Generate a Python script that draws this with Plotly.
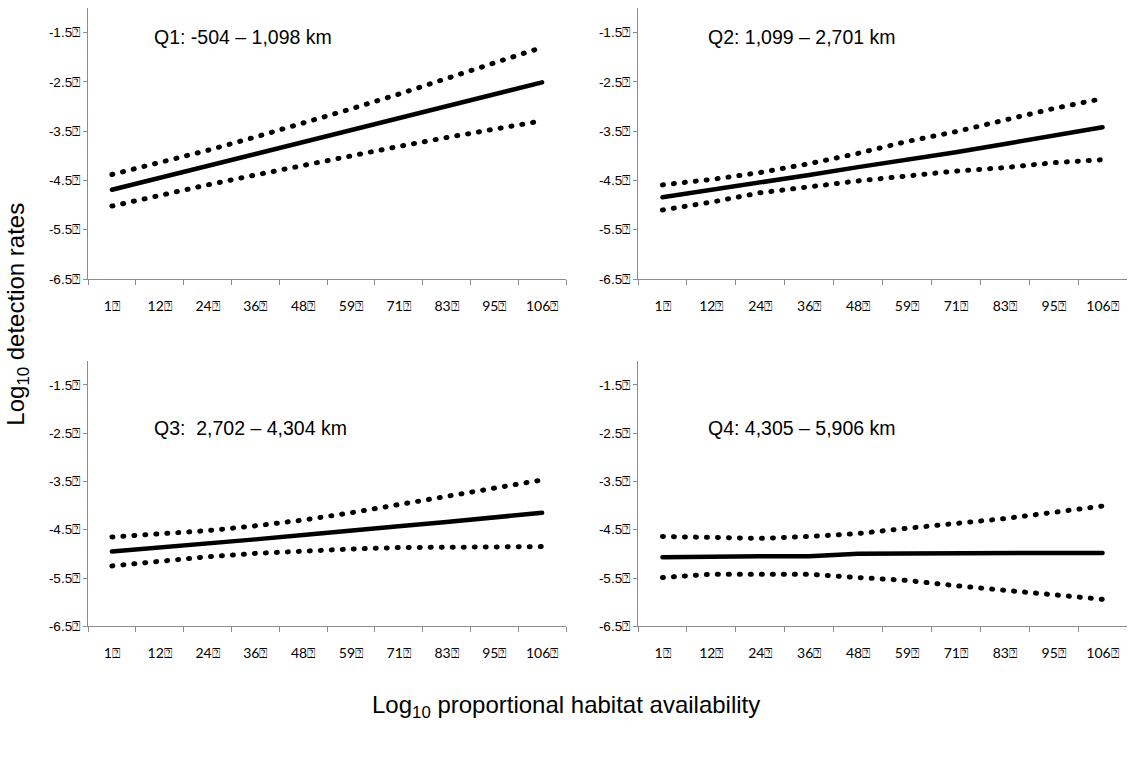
import plotly.graph_objects as go

# Habitat-availability categories (x) and the box glyph that trails every tick label
BOX = "\u2370"
categories = ["1", "12", "24", "36", "48", "59", "71", "83", "95", "106"]
y_ticks = [-6.5, -5.5, -4.5, -3.5, -2.5, -1.5]

# Fitted log10 detection rate with lower / upper confidence limits, per distance quartile
q1_fit = [-4.69, -4.45, -4.21, -3.96, -3.72, -3.48, -3.24, -3.00, -2.75, -2.51]
q1_upper = [-4.38, -4.14, -3.89, -3.62, -3.34, -3.05, -2.75, -2.44, -2.12, -1.80]
q1_lower = [-5.02, -4.80, -4.59, -4.39, -4.19, -4.00, -3.81, -3.63, -3.46, -3.29]

q2_fit = [-4.84, -4.69, -4.56, -4.39, -4.23, -4.09, -3.93, -3.76, -3.60, -3.42]
q2_upper = [-4.59, -4.48, -4.34, -4.16, -3.95, -3.71, -3.51, -3.27, -3.04, -2.84]
q2_lower = [-5.10, -4.94, -4.75, -4.62, -4.51, -4.41, -4.31, -4.24, -4.14, -4.08]

q3_fit = [-4.95, -4.87, -4.80, -4.70, -4.61, -4.53, -4.43, -4.34, -4.24, -4.15]
q3_upper = [-4.65, -4.58, -4.52, -4.42, -4.30, -4.15, -3.98, -3.80, -3.63, -3.47]
q3_lower = [-5.25, -5.15, -5.06, -4.99, -4.94, -4.90, -4.87, -4.86, -4.86, -4.85]

q4_fit = [-5.07, -5.05, -5.05, -5.05, -5.00, -4.99, -4.99, -5.00, -4.98, -4.98]
q4_upper = [-4.64, -4.67, -4.68, -4.64, -4.58, -4.47, -4.37, -4.27, -4.14, -4.01]
q4_lower = [-5.49, -5.42, -5.42, -5.42, -5.49, -5.55, -5.66, -5.75, -5.85, -5.94]

panel_titles = [
    "Q1: -504 \u2013 1,098 km",
    "Q2: 1,099 \u2013 2,701 km",
    "Q3: \u00a02,702 \u2013 4,304 km",
    "Q4: 4,305 \u2013 5,906 km",
]

panels = [
    (q1_fit, q1_upper, q1_lower),
    (q2_fit, q2_upper, q2_lower),
    (q3_fit, q3_upper, q3_lower),
    (q4_fit, q4_upper, q4_lower),
]

W, H = 1130, 757
x_domains = [[88 / W, 566 / W], [638 / W, 1127 / W]]
y_domains = [[1 - 282 / H, 1 - 8 / H], [1 - 633 / H, 1 - 364.5 / H]]

x_labels = [c + BOX for c in categories]
AXIS_GREY = "#8c8c8c"

fig = go.Figure()
layout = {}
annotations = []

for k, (fit, upper, lower) in enumerate(panels):
    row, col = divmod(k, 2)
    sfx = "" if k == 0 else str(k + 1)
    xa, ya = "x" + sfx, "y" + sfx
    for series, dash, width in ((upper, "1px,10px", 5), (lower, "1px,10px", 5), (fit, "solid", 4.5)):
        fig.add_trace(go.Scatter(
            x=x_labels, y=series, xaxis=xa, yaxis=ya, mode="lines",
            line=dict(color="black", width=width, dash=dash),
            showlegend=False, hoverinfo="skip",
        ))
    layout["xaxis" + sfx] = dict(
        domain=x_domains[col], anchor=ya, type="category",
        categoryorder="array", categoryarray=x_labels,
        range=[-0.5, 9.5], tickson="boundaries",
        showline=True, linecolor=AXIS_GREY, linewidth=1.3,
        ticks="outside", ticklen=5, tickcolor=AXIS_GREY, tickwidth=1.3,
        ticklabelstandoff=14,
        showgrid=False, zeroline=False,
        tickfont=dict(family="Lato, 'Open Sans', sans-serif", size=14, color="black"),
    )
    layout["yaxis" + sfx] = dict(
        domain=y_domains[row], anchor=xa, range=[-6.5, -1.0],
        tickmode="array", tickvals=y_ticks, ticktext=[f"{v:.1f}{BOX}" for v in y_ticks],
        showline=True, linecolor=AXIS_GREY, linewidth=1.3,
        ticks="outside", ticklen=4, tickcolor=AXIS_GREY, tickwidth=1.3,
        showgrid=False, zeroline=False,
        tickfont=dict(family="Liberation Sans, Arial, sans-serif", size=13.5, color="black"),
    )
    tx = [152, 706][col] / W
    ty = 1 - [37, 433][row] / H
    annotations.append(dict(
        text=panel_titles[k], x=tx, y=ty, xref="paper", yref="paper",
        xanchor="left", yanchor="middle", showarrow=False,
        font=dict(family="Liberation Sans, Arial, sans-serif", size=19.5, color="black"),
    ))

annotations.append(dict(
    text="Log<sub>10</sub> detection rates", x=18 / W, y=1 - 318 / H,
    xref="paper", yref="paper", xanchor="center", yanchor="middle",
    textangle=-90, showarrow=False,
    font=dict(family="Liberation Sans, Arial, sans-serif", size=24, color="black"),
))
annotations.append(dict(
    text="Log<sub>10</sub> proportional habitat availability", x=566 / W, y=1 - 714 / H,
    xref="paper", yref="paper", xanchor="center", yanchor="middle", showarrow=False,
    font=dict(family="Liberation Sans, Arial, sans-serif", size=24, color="black"),
))

fig.update_layout(
    width=W, height=H, margin=dict(l=0, r=0, t=0, b=0),
    paper_bgcolor="white", plot_bgcolor="white",
    annotations=annotations, **layout,
)

round_caps = """
var gd = document.getElementById('{plot_id}');
gd.querySelectorAll('.scatterlayer .js-line').forEach(function (p) {
    p.style.strokeLinecap = 'round';
    p.style.strokeLinejoin = 'round';
});
"""

fig.write_html("out.html", config={"displayModeBar": False}, post_script=round_caps)
